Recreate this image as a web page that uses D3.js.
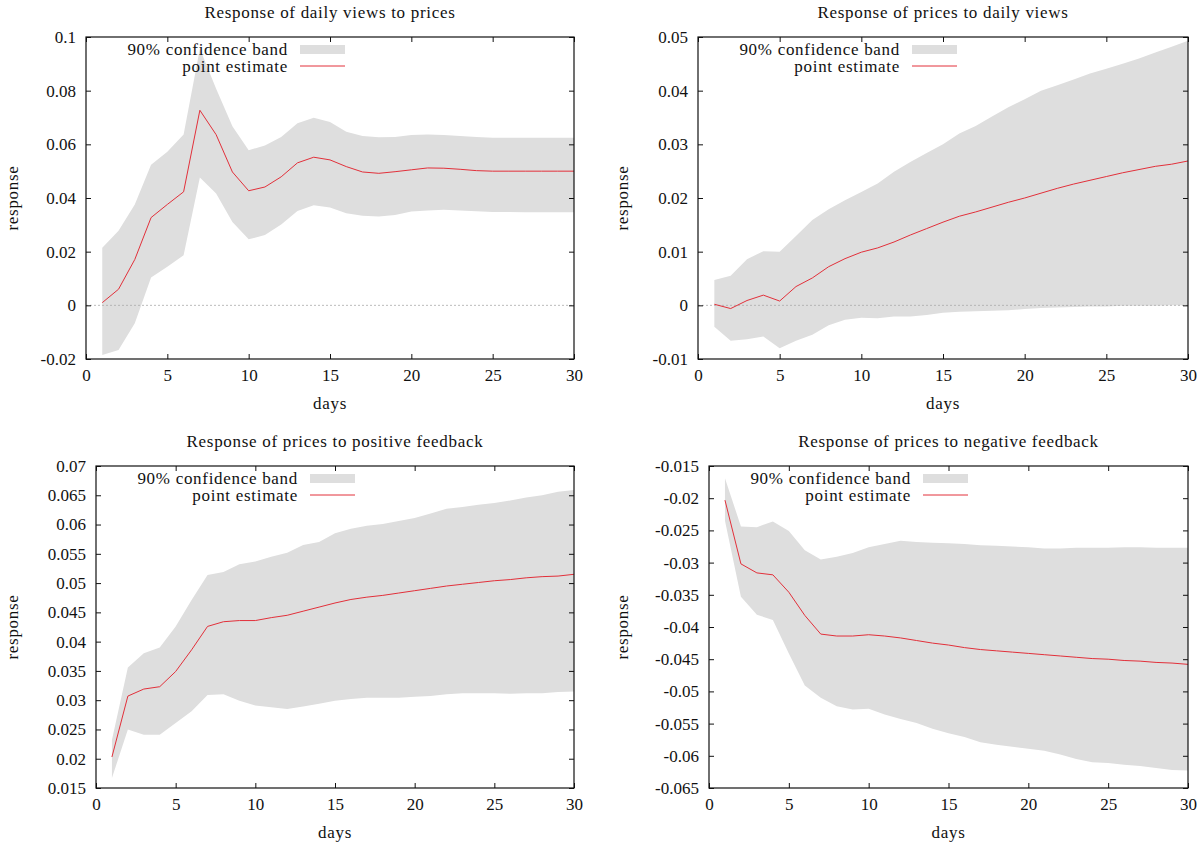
<!DOCTYPE html>
<html lang="en">
<head>
<meta charset="UTF-8">
<title>Impulse responses</title>
<script src="https://d3js.org/d3.v7.min.js"></script>
<style>
  body { margin: 0; background: #fff; }
  svg text { font-family: "Liberation Serif", "DejaVu Serif", serif; font-size: 17px; fill: #111; }
  svg text.label { letter-spacing: 0.7px; }
</style>
</head>
<body>
<svg id="chart" width="1200" height="845"></svg>
<script>
const days = [1, 2, 3, 4, 5, 6, 7, 8, 9, 10, 11, 12, 13, 14, 15, 16, 17, 18, 19, 20, 21, 22, 23, 24, 25, 26, 27, 28, 29, 30];
const xTicks = [0, 5, 10, 15, 20, 25, 30];

// daily views -> prices
const viewsEst = [0.001, 0.006, 0.0171, 0.0327, 0.0376, 0.0423, 0.0727, 0.0636, 0.0497, 0.0427, 0.0441, 0.0479, 0.0531, 0.0552, 0.0542, 0.0517, 0.0497, 0.0492, 0.0498, 0.0505, 0.0512, 0.0511, 0.0507, 0.0502, 0.05, 0.05, 0.05, 0.05, 0.05, 0.05];
const viewsHi = [0.0215, 0.0278, 0.0376, 0.0524, 0.0572, 0.0637, 0.0956, 0.0807, 0.0667, 0.0578, 0.0596, 0.0627, 0.0679, 0.0699, 0.0683, 0.0647, 0.0631, 0.0626, 0.0627, 0.0635, 0.0637, 0.0635, 0.0631, 0.0627, 0.0625, 0.0625, 0.0625, 0.0625, 0.0625, 0.0625];
const viewsLo = [-0.0185, -0.0166, -0.0067, 0.0104, 0.0144, 0.0187, 0.0476, 0.0417, 0.0311, 0.0246, 0.0262, 0.0301, 0.0352, 0.0373, 0.0365, 0.0343, 0.0334, 0.0331, 0.0337, 0.035, 0.0353, 0.0356, 0.0353, 0.0351, 0.0348, 0.0348, 0.0347, 0.0347, 0.0347, 0.0347];
const viewsTicks = [-0.02, 0, 0.02, 0.04, 0.06, 0.08, 0.1];

// prices -> daily views
const pricesEst = [0.0002, -0.0006, 0.0009, 0.0019, 0.0008, 0.0035, 0.0051, 0.0072, 0.0087, 0.0099, 0.0107, 0.0118, 0.0131, 0.0143, 0.0155, 0.0166, 0.0174, 0.0183, 0.0192, 0.02, 0.0209, 0.0218, 0.0226, 0.0233, 0.024, 0.0247, 0.0253, 0.0259, 0.0263, 0.0269];
const pricesHi = [0.0047, 0.0055, 0.0086, 0.0101, 0.01, 0.0129, 0.0159, 0.0179, 0.0196, 0.0211, 0.0227, 0.0249, 0.0267, 0.0284, 0.03, 0.032, 0.0334, 0.0352, 0.0369, 0.0384, 0.04, 0.041, 0.0421, 0.0432, 0.0441, 0.045, 0.046, 0.0471, 0.0482, 0.0493];
const pricesLo = [-0.004, -0.0066, -0.0063, -0.0058, -0.008, -0.0066, -0.0055, -0.0037, -0.0027, -0.0023, -0.0024, -0.0021, -0.0021, -0.0018, -0.0014, -0.0012, -0.0011, -0.001, -0.0009, -0.0007, -0.0005, -0.0004, -0.0003, -0.0002, -0.0002, -0.0001, -0.0001, -0.0001, 0, 0];
const pricesTicks = [-0.01, 0, 0.01, 0.02, 0.03, 0.04, 0.05];

// prices -> positive feedback
const posEst = [0.0203, 0.0307, 0.0319, 0.0323, 0.0349, 0.0386, 0.0426, 0.0434, 0.0436, 0.0436, 0.0441, 0.0445, 0.0452, 0.0459, 0.0466, 0.0472, 0.0476, 0.0479, 0.0483, 0.0487, 0.0491, 0.0495, 0.0498, 0.0501, 0.0504, 0.0506, 0.0509, 0.0511, 0.0512, 0.0515];
const posHi = [0.0232, 0.0356, 0.038, 0.039, 0.0426, 0.0471, 0.0514, 0.0519, 0.0532, 0.0537, 0.0545, 0.0552, 0.0565, 0.057, 0.0585, 0.0593, 0.0598, 0.0601, 0.0606, 0.0611, 0.0619, 0.0627, 0.063, 0.0634, 0.0637, 0.0641, 0.0646, 0.065, 0.0656, 0.0659];
const posLo = [0.0167, 0.025, 0.0241, 0.0241, 0.0261, 0.0281, 0.0309, 0.031, 0.0299, 0.0291, 0.0288, 0.0285, 0.0289, 0.0294, 0.0299, 0.0302, 0.0304, 0.0304, 0.0304, 0.0306, 0.0307, 0.031, 0.0312, 0.0312, 0.0312, 0.0311, 0.0312, 0.0312, 0.0314, 0.0315];
const posTicks = [0.015, 0.02, 0.025, 0.03, 0.035, 0.04, 0.045, 0.05, 0.055, 0.06, 0.065, 0.07];

// prices -> negative feedback
const negEst = [-0.0203, -0.0302, -0.0316, -0.0319, -0.0346, -0.0382, -0.0411, -0.0414, -0.0414, -0.0412, -0.0414, -0.0417, -0.0421, -0.0425, -0.0428, -0.0432, -0.0435, -0.0437, -0.0439, -0.0441, -0.0443, -0.0445, -0.0447, -0.0449, -0.045, -0.0452, -0.0453, -0.0455, -0.0456, -0.0458];
const negHi = [-0.0169, -0.0244, -0.0245, -0.0236, -0.0251, -0.0281, -0.0295, -0.0291, -0.0285, -0.0276, -0.0271, -0.0266, -0.0268, -0.0269, -0.027, -0.0271, -0.0273, -0.0274, -0.0275, -0.0276, -0.0278, -0.0278, -0.0277, -0.0277, -0.0277, -0.0276, -0.0276, -0.0277, -0.0277, -0.0277];
const negLo = [-0.0235, -0.0353, -0.0381, -0.0389, -0.0441, -0.0491, -0.051, -0.0523, -0.0528, -0.0527, -0.0536, -0.0543, -0.0549, -0.0558, -0.0565, -0.0571, -0.0579, -0.0583, -0.0586, -0.0589, -0.0592, -0.0598, -0.0605, -0.061, -0.0611, -0.0614, -0.0616, -0.0619, -0.0622, -0.0623];
const negTicks = [-0.065, -0.06, -0.055, -0.05, -0.045, -0.04, -0.035, -0.03, -0.025, -0.02, -0.015];

const bandColor = "#dedede";
const lineColor = "#e2303a";

const panels = [
  { title: "Response of daily views to prices", est: viewsEst, hi: viewsHi, lo: viewsLo, ticks: viewsTicks,
    box: { left: 86, right: 574, top: 37, bottom: 359 }, ylabX: 12 },
  { title: "Response of prices to daily views", est: pricesEst, hi: pricesHi, lo: pricesLo, ticks: pricesTicks,
    box: { left: 698, right: 1188, top: 37, bottom: 359 }, ylabX: 622 },
  { title: "Response of prices to positive feedback", est: posEst, hi: posHi, lo: posLo, ticks: posTicks,
    box: { left: 96, right: 574, top: 466, bottom: 788 }, ylabX: 12 },
  { title: "Response of prices to negative feedback", est: negEst, hi: negHi, lo: negLo, ticks: negTicks,
    box: { left: 709, right: 1188, top: 466, bottom: 788 }, ylabX: 622 }
];

const svg = d3.select("#chart");

function cleanAxis(g) {
  g.attr("font-size", null).attr("font-family", null);
  g.select(".domain").remove();
  g.selectAll(".tick line").attr("stroke", "#111");
}

panels.forEach(p => {
  const b = p.box;
  const ticks = p.ticks;
  const x = d3.scaleLinear().domain([0, 30]).range([b.left, b.right]);
  const y = d3.scaleLinear().domain([ticks[0], ticks[ticks.length - 1]]).range([b.bottom, b.top]);
  const rows = days.map((d, i) => ({ day: d, est: p.est[i], hi: p.hi[i], lo: p.lo[i] }));

  const g = svg.append("g");

  g.append("path")
    .datum(rows)
    .attr("fill", bandColor)
    .attr("d", d3.area().x(d => x(d.day)).y0(d => y(d.lo)).y1(d => y(d.hi)));

  if (y.domain()[0] < 0 && y.domain()[1] > 0) {
    g.append("line")
      .attr("x1", b.left).attr("x2", b.right)
      .attr("y1", y(0)).attr("y2", y(0))
      .attr("stroke", "#a8a8a8").attr("stroke-width", 0.8)
      .attr("stroke-dasharray", "2,2");
  }

  g.append("path")
    .datum(rows)
    .attr("fill", "none")
    .attr("stroke", lineColor)
    .attr("stroke-width", 1)
    .attr("d", d3.line().x(d => x(d.day)).y(d => y(d.est)));

  // axes with inward ticks, mirrored on top/right
  g.append("g").attr("transform", `translate(${b.left},0)`)
    .call(d3.axisLeft(y).tickValues(ticks).tickSizeInner(-5).tickSizeOuter(0).tickPadding(10).tickFormat(d => String(d)))
    .call(cleanAxis);
  g.append("g").attr("transform", `translate(${b.right},0)`)
    .call(d3.axisRight(y).tickValues(ticks).tickSizeInner(-5).tickSizeOuter(0).tickFormat(""))
    .call(cleanAxis);
  g.append("g").attr("transform", `translate(0,${b.bottom})`)
    .call(d3.axisBottom(x).tickValues(xTicks).tickSizeInner(-5).tickSizeOuter(0).tickPadding(10).tickFormat(d => String(d)))
    .call(cleanAxis);
  g.append("g").attr("transform", `translate(0,${b.top})`)
    .call(d3.axisTop(x).tickValues(xTicks).tickSizeInner(-5).tickSizeOuter(0).tickFormat(""))
    .call(cleanAxis);

  g.append("rect")
    .attr("x", b.left).attr("y", b.top)
    .attr("width", b.right - b.left).attr("height", b.bottom - b.top)
    .attr("fill", "none").attr("stroke", "#111").attr("stroke-width", 1.2);

  // labels
  g.append("text").attr("class", "label")
    .attr("x", (b.left + b.right) / 2).attr("y", b.top - 25)
    .attr("text-anchor", "middle").attr("dy", "0.35em")
    .text(p.title);
  g.append("text").attr("class", "label")
    .attr("x", (b.left + b.right) / 2).attr("y", b.bottom + 44)
    .attr("text-anchor", "middle").attr("dy", "0.35em")
    .text("days");
  g.append("text").attr("class", "label")
    .attr("transform", `translate(${p.ylabX},${(b.top + b.bottom) / 2}) rotate(-90)`)
    .attr("text-anchor", "middle").attr("dy", "0.35em")
    .text("response");

  // legend
  const lx = b.left + 202;
  const leg = g.append("g");
  leg.append("text").attr("class", "label").attr("x", lx).attr("y", b.top + 12).attr("dy", "0.35em")
    .attr("text-anchor", "end").text("90% confidence band");
  leg.append("rect").attr("x", lx + 12).attr("y", b.top + 8).attr("width", 45).attr("height", 9)
    .attr("fill", bandColor);
  leg.append("text").attr("class", "label").attr("x", lx).attr("y", b.top + 29).attr("dy", "0.35em")
    .attr("text-anchor", "end").text("point estimate");
  leg.append("line").attr("x1", lx + 12).attr("x2", lx + 57)
    .attr("y1", b.top + 29).attr("y2", b.top + 29)
    .attr("stroke", lineColor).attr("stroke-width", 1);
});
</script>
</body>
</html>
